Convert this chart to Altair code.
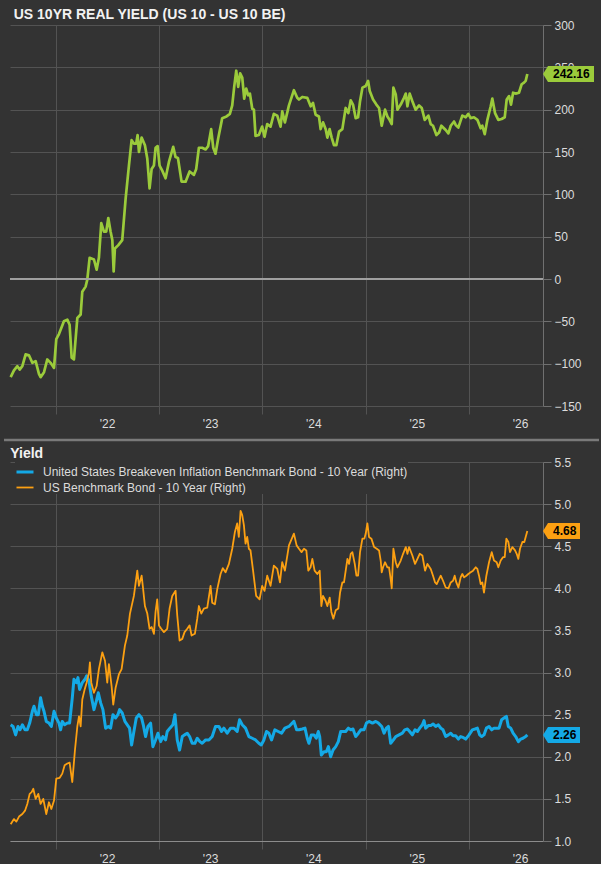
import altair as alt
import pandas as pd

# ---------------- data (decimal year, value) ----------------
REAL = [
    (2021.561, -116), (2021.593, -108), (2021.626, -103), (2021.648, -107), (2021.674, -103),
    (2021.706, -89), (2021.738, -90), (2021.771, -99), (2021.803, -97), (2021.835, -112),
    (2021.851, -116), (2021.884, -110), (2021.916, -95), (2021.948, -99), (2021.981, -105),
    (2022.003, -71), (2022.029, -65), (2022.045, -60), (2022.077, -50), (2022.110, -48),
    (2022.132, -54), (2022.152, -93), (2022.174, -95), (2022.207, -46), (2022.239, -42),
    (2022.255, -15), (2022.287, -9), (2022.303, -1), (2022.326, 25), (2022.368, 23),
    (2022.394, 11), (2022.416, 25), (2022.439, 66), (2022.465, 56), (2022.487, 56),
    (2022.507, 72), (2022.529, 56), (2022.546, 46), (2022.559, 9), (2022.571, 36),
    (2022.604, 40), (2022.642, 46), (2022.675, 95), (2022.707, 134), (2022.733, 164),
    (2022.755, 160), (2022.778, 160), (2022.791, 170), (2022.804, 150), (2022.830, 167),
    (2022.862, 158), (2022.885, 142), (2022.907, 107), (2022.927, 130), (2022.949, 134),
    (2022.965, 155), (2022.985, 157),
    (2023.004, 134), (2023.030, 128), (2023.062, 119), (2023.094, 138), (2023.136, 156),
    (2023.159, 144), (2023.182, 143), (2023.217, 115), (2023.256, 115), (2023.295, 127),
    (2023.337, 123), (2023.359, 130), (2023.385, 155), (2023.417, 155), (2023.450, 153),
    (2023.475, 157), (2023.504, 177), (2023.524, 155), (2023.546, 148), (2023.572, 166),
    (2023.611, 190), (2023.653, 192), (2023.685, 195), (2023.708, 205), (2023.727, 227),
    (2023.747, 246), (2023.766, 227), (2023.785, 243), (2023.805, 238), (2023.824, 213),
    (2023.843, 225), (2023.863, 217), (2023.879, 219), (2023.902, 201), (2023.918, 200),
    (2023.934, 169), (2023.966, 170), (2023.998, 180),
    (2024.021, 168), (2024.047, 183), (2024.079, 180), (2024.111, 195), (2024.144, 193),
    (2024.176, 180), (2024.192, 198), (2024.218, 185), (2024.257, 205), (2024.305, 223),
    (2024.337, 214), (2024.354, 212), (2024.386, 215), (2024.434, 214), (2024.467, 204),
    (2024.489, 208), (2024.515, 194), (2024.547, 192), (2024.563, 177), (2024.586, 185),
    (2024.612, 177), (2024.628, 167), (2024.650, 177), (2024.670, 167), (2024.692, 158),
    (2024.715, 158), (2024.741, 174), (2024.773, 177), (2024.805, 202), (2024.831, 196),
    (2024.854, 211), (2024.876, 206), (2024.902, 190), (2024.925, 191), (2024.944, 210),
    (2024.967, 226), (2024.999, 228),
    (2025.022, 234), (2025.038, 222), (2025.070, 212), (2025.102, 206), (2025.128, 202),
    (2025.154, 181), (2025.186, 200), (2025.209, 192), (2025.225, 189), (2025.251, 183),
    (2025.267, 226), (2025.290, 218), (2025.306, 200), (2025.338, 206), (2025.370, 214),
    (2025.387, 219), (2025.403, 204), (2025.425, 219), (2025.451, 210), (2025.483, 200),
    (2025.516, 205), (2025.542, 202), (2025.571, 188), (2025.606, 193), (2025.629, 183),
    (2025.651, 181), (2025.684, 170), (2025.710, 173), (2025.732, 181), (2025.774, 176),
    (2025.800, 172), (2025.823, 181), (2025.855, 186), (2025.871, 182), (2025.897, 179),
    (2025.935, 193), (2025.968, 191), (2025.993, 195),
    (2026.016, 190), (2026.048, 191), (2026.081, 188), (2026.113, 178), (2026.129, 181),
    (2026.152, 171), (2026.178, 188), (2026.210, 204), (2026.226, 213), (2026.252, 196),
    (2026.284, 188), (2026.316, 189), (2026.346, 191), (2026.365, 212), (2026.388, 216),
    (2026.407, 206), (2026.427, 220), (2026.452, 219), (2026.484, 220), (2026.510, 230),
    (2026.533, 232), (2026.549, 234), (2026.565, 242.16),
]

UST = [
    (2021.561, 1.20), (2021.593, 1.26), (2021.616, 1.23), (2021.642, 1.29), (2021.674, 1.32),
    (2021.700, 1.36), (2021.722, 1.44), (2021.745, 1.56), (2021.764, 1.58), (2021.780, 1.62),
    (2021.803, 1.50), (2021.829, 1.56), (2021.851, 1.44), (2021.877, 1.50), (2021.906, 1.32),
    (2021.932, 1.46), (2021.955, 1.38), (2021.981, 1.48),
    (2022.003, 1.74), (2022.036, 1.75), (2022.061, 1.80), (2022.084, 1.90), (2022.110, 1.92),
    (2022.132, 1.93), (2022.158, 1.70), (2022.184, 2.08), (2022.207, 2.36), (2022.223, 2.48),
    (2022.239, 2.36), (2022.255, 2.68), (2022.278, 2.80), (2022.297, 2.88), (2022.320, 3.00),
    (2022.329, 3.12), (2022.342, 2.88), (2022.368, 2.76), (2022.394, 2.84), (2022.416, 3.04),
    (2022.449, 3.24), (2022.475, 3.14), (2022.497, 2.88), (2022.513, 3.10), (2022.539, 2.84),
    (2022.555, 2.62), (2022.578, 2.82), (2022.610, 2.98), (2022.636, 3.04), (2022.668, 3.32),
    (2022.691, 3.44), (2022.717, 3.70), (2022.755, 3.91), (2022.788, 4.21), (2022.804, 4.03),
    (2022.830, 4.15), (2022.843, 4.01), (2022.862, 3.79), (2022.885, 3.70), (2022.907, 3.52),
    (2022.927, 3.54), (2022.949, 3.46), (2022.965, 3.72), (2022.981, 3.87), (2022.998, 3.56),
    (2023.020, 3.52), (2023.046, 3.48), (2023.078, 3.52), (2023.101, 3.76), (2023.127, 3.91),
    (2023.159, 3.97), (2023.175, 3.68), (2023.198, 3.38), (2023.224, 3.40), (2023.246, 3.48),
    (2023.272, 3.52), (2023.295, 3.56), (2023.314, 3.44), (2023.346, 3.46), (2023.369, 3.64),
    (2023.385, 3.79), (2023.408, 3.70), (2023.433, 3.76), (2023.466, 3.77), (2023.498, 4.03),
    (2023.514, 3.83), (2023.540, 3.81), (2023.563, 3.99), (2023.595, 4.17), (2023.617, 4.24),
    (2023.643, 4.19), (2023.676, 4.29), (2023.708, 4.47), (2023.734, 4.67), (2023.756, 4.77),
    (2023.772, 4.61), (2023.789, 4.92), (2023.805, 4.87), (2023.821, 4.75), (2023.837, 4.53),
    (2023.853, 4.61), (2023.869, 4.47), (2023.885, 4.45), (2023.908, 4.23), (2023.940, 3.91),
    (2023.973, 3.87), (2023.998, 4.03),
    (2024.021, 3.97), (2024.047, 4.15), (2024.079, 4.03), (2024.111, 4.27), (2024.144, 4.23),
    (2024.170, 4.07), (2024.192, 4.31), (2024.218, 4.21), (2024.257, 4.51), (2024.305, 4.65),
    (2024.331, 4.51), (2024.354, 4.47), (2024.379, 4.43), (2024.402, 4.47), (2024.425, 4.45),
    (2024.444, 4.21), (2024.466, 4.25), (2024.483, 4.35), (2024.505, 4.21), (2024.531, 4.17),
    (2024.554, 4.21), (2024.570, 3.79), (2024.586, 3.91), (2024.612, 3.85), (2024.628, 3.79),
    (2024.651, 3.89), (2024.667, 3.72), (2024.686, 3.64), (2024.709, 3.74), (2024.734, 3.76),
    (2024.751, 3.95), (2024.773, 4.07), (2024.789, 4.07), (2024.822, 4.35), (2024.838, 4.29),
    (2024.854, 4.41), (2024.870, 4.43), (2024.893, 4.29), (2024.909, 4.15), (2024.925, 4.15),
    (2024.944, 4.43), (2024.967, 4.59), (2024.986, 4.59), (2024.999, 4.65),
    (2025.015, 4.77), (2025.031, 4.61), (2025.054, 4.59), (2025.080, 4.49), (2025.106, 4.47),
    (2025.128, 4.45), (2025.144, 4.33), (2025.154, 4.19), (2025.167, 4.25), (2025.186, 4.31),
    (2025.209, 4.25), (2025.225, 4.25), (2025.241, 4.11), (2025.251, 4.00), (2025.267, 4.47),
    (2025.290, 4.31), (2025.306, 4.25), (2025.338, 4.33), (2025.361, 4.41), (2025.387, 4.49),
    (2025.403, 4.41), (2025.419, 4.49), (2025.451, 4.39), (2025.477, 4.29), (2025.500, 4.35),
    (2025.522, 4.41), (2025.548, 4.39), (2025.574, 4.21), (2025.597, 4.29), (2025.629, 4.23),
    (2025.651, 4.15), (2025.671, 4.07), (2025.687, 4.05), (2025.709, 4.11), (2025.726, 4.15),
    (2025.748, 4.09), (2025.774, 4.01), (2025.800, 4.00), (2025.823, 4.07), (2025.845, 4.09),
    (2025.861, 4.15), (2025.877, 4.07), (2025.897, 4.01), (2025.919, 4.13), (2025.935, 4.17),
    (2025.952, 4.13), (2025.974, 4.15), (2025.993, 4.17),
    (2026.016, 4.19), (2026.039, 4.21), (2026.065, 4.25), (2026.081, 4.23), (2026.097, 4.15),
    (2026.113, 4.05), (2026.129, 4.07), (2026.145, 3.95), (2026.168, 4.15), (2026.194, 4.31),
    (2026.220, 4.43), (2026.242, 4.33), (2026.268, 4.31), (2026.284, 4.25), (2026.307, 4.33),
    (2026.329, 4.37), (2026.346, 4.37), (2026.362, 4.59), (2026.381, 4.55), (2026.397, 4.43),
    (2026.420, 4.49), (2026.446, 4.45), (2026.462, 4.41), (2026.478, 4.35), (2026.494, 4.47),
    (2026.517, 4.55), (2026.536, 4.55), (2026.549, 4.61), (2026.565, 4.68),
]

BE = [
    (2021.561, 2.38), (2021.584, 2.36), (2021.609, 2.26), (2021.632, 2.36), (2021.651, 2.32),
    (2021.674, 2.38), (2021.700, 2.32), (2021.722, 2.32), (2021.745, 2.40), (2021.771, 2.54),
    (2021.787, 2.60), (2021.810, 2.50), (2021.829, 2.50), (2021.851, 2.70), (2021.868, 2.60),
    (2021.884, 2.54), (2021.906, 2.42), (2021.932, 2.40), (2021.955, 2.36), (2021.981, 2.54),
    (2022.003, 2.46), (2022.029, 2.40), (2022.045, 2.32), (2022.061, 2.42), (2022.084, 2.38),
    (2022.110, 2.40), (2022.132, 2.40), (2022.158, 2.70), (2022.174, 2.92), (2022.197, 2.88),
    (2022.213, 2.94), (2022.229, 2.80), (2022.255, 2.88), (2022.281, 2.92), (2022.297, 2.96),
    (2022.320, 2.90), (2022.342, 2.72), (2022.368, 2.56), (2022.391, 2.66), (2022.410, 2.76),
    (2022.433, 2.64), (2022.455, 2.56), (2022.481, 2.34), (2022.507, 2.36), (2022.529, 2.34),
    (2022.552, 2.50), (2022.578, 2.46), (2022.600, 2.50), (2022.617, 2.56), (2022.642, 2.52),
    (2022.668, 2.42), (2022.691, 2.38), (2022.713, 2.34), (2022.733, 2.14), (2022.755, 2.30),
    (2022.778, 2.46), (2022.804, 2.50), (2022.830, 2.46), (2022.846, 2.38), (2022.868, 2.24),
    (2022.891, 2.36), (2022.917, 2.40), (2022.939, 2.12), (2022.965, 2.20), (2022.988, 2.28),
    (2023.014, 2.18), (2023.036, 2.24), (2023.062, 2.20), (2023.078, 2.30), (2023.104, 2.34),
    (2023.133, 2.38), (2023.153, 2.50), (2023.175, 2.20), (2023.198, 2.08), (2023.224, 2.24),
    (2023.246, 2.26), (2023.272, 2.28), (2023.295, 2.24), (2023.320, 2.16), (2023.346, 2.16),
    (2023.369, 2.22), (2023.395, 2.18), (2023.417, 2.16), (2023.450, 2.20), (2023.482, 2.20),
    (2023.514, 2.24), (2023.546, 2.36), (2023.579, 2.36), (2023.605, 2.30), (2023.627, 2.34),
    (2023.659, 2.28), (2023.692, 2.34), (2023.724, 2.34), (2023.756, 2.30), (2023.779, 2.44),
    (2023.805, 2.38), (2023.837, 2.34), (2023.869, 2.24), (2023.902, 2.22), (2023.934, 2.20),
    (2023.966, 2.16), (2023.989, 2.14),
    (2024.015, 2.20), (2024.040, 2.30), (2024.063, 2.28), (2024.089, 2.20), (2024.121, 2.32),
    (2024.153, 2.30), (2024.186, 2.28), (2024.218, 2.34), (2024.257, 2.36), (2024.305, 2.42),
    (2024.331, 2.32), (2024.354, 2.32), (2024.386, 2.33), (2024.412, 2.34), (2024.434, 2.22),
    (2024.450, 2.16), (2024.473, 2.26), (2024.499, 2.26), (2024.521, 2.22), (2024.541, 2.30),
    (2024.554, 2.24), (2024.570, 2.02), (2024.596, 2.06), (2024.618, 2.06), (2024.638, 2.12),
    (2024.660, 2.00), (2024.683, 2.08), (2024.709, 2.12), (2024.734, 2.18), (2024.757, 2.30),
    (2024.780, 2.30), (2024.805, 2.30), (2024.831, 2.34), (2024.854, 2.32), (2024.876, 2.33),
    (2024.902, 2.24), (2024.928, 2.28), (2024.951, 2.32), (2024.983, 2.32),
    (2025.006, 2.40), (2025.031, 2.42), (2025.064, 2.40), (2025.096, 2.42), (2025.122, 2.40),
    (2025.154, 2.36), (2025.177, 2.28), (2025.199, 2.34), (2025.219, 2.36), (2025.241, 2.16),
    (2025.267, 2.20), (2025.290, 2.24), (2025.322, 2.26), (2025.354, 2.28), (2025.377, 2.32),
    (2025.403, 2.33), (2025.425, 2.30), (2025.451, 2.26), (2025.477, 2.32), (2025.500, 2.30),
    (2025.522, 2.34), (2025.548, 2.38), (2025.564, 2.43), (2025.580, 2.34), (2025.606, 2.37),
    (2025.629, 2.37), (2025.651, 2.39), (2025.677, 2.36), (2025.703, 2.38), (2025.726, 2.34),
    (2025.748, 2.32), (2025.774, 2.24), (2025.800, 2.26), (2025.823, 2.28), (2025.845, 2.25),
    (2025.871, 2.25), (2025.897, 2.21), (2025.919, 2.24), (2025.942, 2.23), (2025.968, 2.21),
    (2026.000, 2.26), (2026.032, 2.32), (2026.058, 2.33), (2026.081, 2.34), (2026.103, 2.26),
    (2026.123, 2.24), (2026.145, 2.26), (2026.168, 2.34), (2026.194, 2.36), (2026.220, 2.32),
    (2026.242, 2.34), (2026.265, 2.34), (2026.291, 2.34), (2026.316, 2.44), (2026.339, 2.46),
    (2026.362, 2.48), (2026.381, 2.36), (2026.404, 2.34), (2026.427, 2.28), (2026.452, 2.24),
    (2026.478, 2.18), (2026.501, 2.21), (2026.523, 2.22), (2026.549, 2.24), (2026.565, 2.26),
]

TITLE_TOP = "US 10YR REAL YIELD (US 10 - US 10 BE)"
TITLE_BOTTOM = "Yield"
BE_NAME = "United States Breakeven Inflation Benchmark Bond - 10 Year (Right)"
UST_NAME = "US Benchmark Bond - 10 Year (Right)"
REAL_TICKS = [-150, -100, -50, 0, 50, 100, 150, 200, 250, 300]
YIELD_TICKS = [1.0, 1.5, 2.0, 2.5, 3.0, 3.5, 4.0, 4.5, 5.0, 5.5]
YEARS = [2022, 2023, 2024, 2025, 2026]
X_START, X_END = 2021.5545, 2026.717
LAST_REAL = "242.16"
LAST_UST = "4.68"
LAST_BE = "2.26"

# ---------------- styling ----------------
BG = "#333333"
GRID = "#535353"
DOMAIN = "#707070"
TXT = "#dcdcdc"
GREEN = "#9BCB3B"
ORANGE = "#FCA012"
BLUE = "#14A9E6"
FONT = "Arial"
W = 533
H_TOP = 381
H_BOT = 379


def to_ts(t):
    y = int(t)
    a = pd.Timestamp(year=y, month=1, day=1)
    b = pd.Timestamp(year=y + 1, month=1, day=1)
    return a + (b - a) * (t - y)


def to_dt(t):
    ts = to_ts(t)
    return alt.DateTime(year=ts.year, month=ts.month, date=ts.day, hours=ts.hour)


def frame(pairs, name):
    return pd.DataFrame({"date": [to_ts(t) for t, _ in pairs],
                         "value": [v for _, v in pairs],
                         "series": name})


real_df = frame(REAL, "real")
bottom_df = pd.concat([frame(BE, BE_NAME), frame(UST, UST_NAME)], ignore_index=True)

x_scale = alt.Scale(domain=[to_dt(X_START), to_dt(X_END)])
year_vals = [alt.DateTime(year=y, month=1, date=1) for y in YEARS]


def x_axis(domain_line, domain_color):
    return alt.Axis(values=year_vals, format="'%y", labelOffset=51, labelFlush=False,
                    grid=True, gridColor=GRID, tickColor=GRID, tickSize=8,
                    domain=domain_line, domainColor=domain_color,
                    labelColor=TXT, labelFontSize=12, labelFont=FONT, labelPadding=4,
                    labelOverlap=False, title=None)


def y_axis(vals, fmt):
    return alt.Axis(orient="right", values=vals, format=fmt, grid=True, gridColor=GRID,
                    domain=True, domainColor=DOMAIN, tickColor=DOMAIN, tickSize=8,
                    labelColor=TXT, labelFontSize=12, labelFont=FONT, labelPadding=3,
                    title=None)


AX_TOP = x_axis(False, GRID)
AX_BOT = x_axis(True, "#8c8c8c")
AY_TOP = y_axis(REAL_TICKS, "d")
AY_BOT = y_axis(YIELD_TICKS, ".1f")

TAG_WIDE = "M0,0 L0.2,-0.32 L2.04,-0.32 L2.04,0.32 L0.2,0.32 Z"
TAG_NARROW = "M0,0 L0.2,-0.32 L1.48,-0.32 L1.48,0.32 L0.2,0.32 Z"

# ---------------- top panel ----------------
y_real = alt.Scale(domain=[-150, 300], nice=False, zero=False)
top_line = alt.Chart(real_df).mark_line(color=GREEN, strokeWidth=2.7, strokeJoin="round").encode(
    x=alt.X("date:T", scale=x_scale, axis=AX_TOP),
    y=alt.Y("value:Q", scale=y_real, axis=AY_TOP))
zero = alt.Chart(real_df).mark_rule(color="#a0a0a0", strokeWidth=1).encode(
    y=alt.Y(datum=0, scale=y_real, axis=AY_TOP))
top_tag_df = pd.DataFrame({"value": [REAL[-1][1]], "label": [LAST_REAL]})
top_tag = alt.Chart(top_tag_df).mark_point(shape=TAG_WIDE, size=2500, filled=True, opacity=1,
                                           color=GREEN, strokeWidth=0).encode(
    x=alt.value(W), y=alt.Y("value:Q", scale=y_real, axis=AY_TOP))
top_txt = alt.Chart(top_tag_df).mark_text(align="left", baseline="middle", font=FONT, fontSize=12,
                                          fontWeight="bold", color="#000000", dx=10).encode(
    x=alt.value(W), y=alt.Y("value:Q", scale=y_real, axis=AY_TOP), text="label:N")
separator = alt.Chart(top_tag_df).mark_rule(color="#7a7a7a", strokeWidth=2.5).encode(
    x=alt.value(-6), x2=alt.value(589), y=alt.value(H_TOP + 34))

top = alt.layer(top_line, zero, top_tag, top_txt, separator).properties(
    width=W, height=H_TOP,
    title=alt.Title(TITLE_TOP, anchor="start", fontSize=14, fontWeight="bold", color="#f2f2f2",
                    font=FONT, dx=11, offset=-3))

# ---------------- bottom panel ----------------
y_yield = alt.Scale(domain=[1.0, 5.5], nice=False, zero=False)
lines = alt.Chart(bottom_df).mark_line(strokeJoin="round").encode(
    x=alt.X("date:T", scale=x_scale, axis=AX_BOT),
    y=alt.Y("value:Q", scale=y_yield, axis=AY_BOT),
    color=alt.Color("series:N", scale=alt.Scale(domain=[BE_NAME, UST_NAME], range=[BLUE, ORANGE]),
                    legend=alt.Legend(orient="none", legendX=5, legendY=0, padding=0, fillColor=BG,
                                      title=None, labelColor=TXT, labelFontSize=12, labelFont=FONT,
                                      symbolType="stroke", symbolSize=289, rowPadding=-2,
                                      labelOffset=8, labelLimit=0)),
    strokeWidth=alt.StrokeWidth("series:N", scale=alt.Scale(domain=[BE_NAME, UST_NAME], range=[3, 1.8]),
                                legend=None),
)
bt_df = pd.DataFrame({"value": [UST[-1][1], BE[-1][1]], "label": [LAST_UST, LAST_BE],
                      "col": [ORANGE, BLUE]})
bot_tag = alt.Chart(bt_df).mark_point(shape=TAG_NARROW, size=2500, filled=True, opacity=1,
                                      strokeWidth=0).encode(
    x=alt.value(W), y=alt.Y("value:Q", scale=y_yield, axis=AY_BOT),
    color=alt.Color("col:N", scale=None))
bot_txt = alt.Chart(bt_df).mark_text(align="left", baseline="middle", font=FONT, fontSize=12,
                                     fontWeight="bold", color="#000000", dx=10).encode(
    x=alt.value(W), y=alt.Y("value:Q", scale=y_yield, axis=AY_BOT), text="label:N")

bottom = alt.layer(lines, bot_tag, bot_txt).properties(
    width=W, height=H_BOT,
    title=alt.Title(TITLE_BOTTOM, anchor="start", fontSize=14, fontWeight="bold", color="#f2f2f2",
                    font=FONT, dx=1, offset=-5))

chart = alt.vconcat(top, bottom, spacing=5).resolve_legend(
    color="independent", strokeWidth="independent").properties(
    background=BG,
    padding={"left": 2, "top": 8, "right": 0, "bottom": 0},
).configure_view(stroke=None)

chart.save("out.html", embed_options={"renderer": "svg", "actions": False})
